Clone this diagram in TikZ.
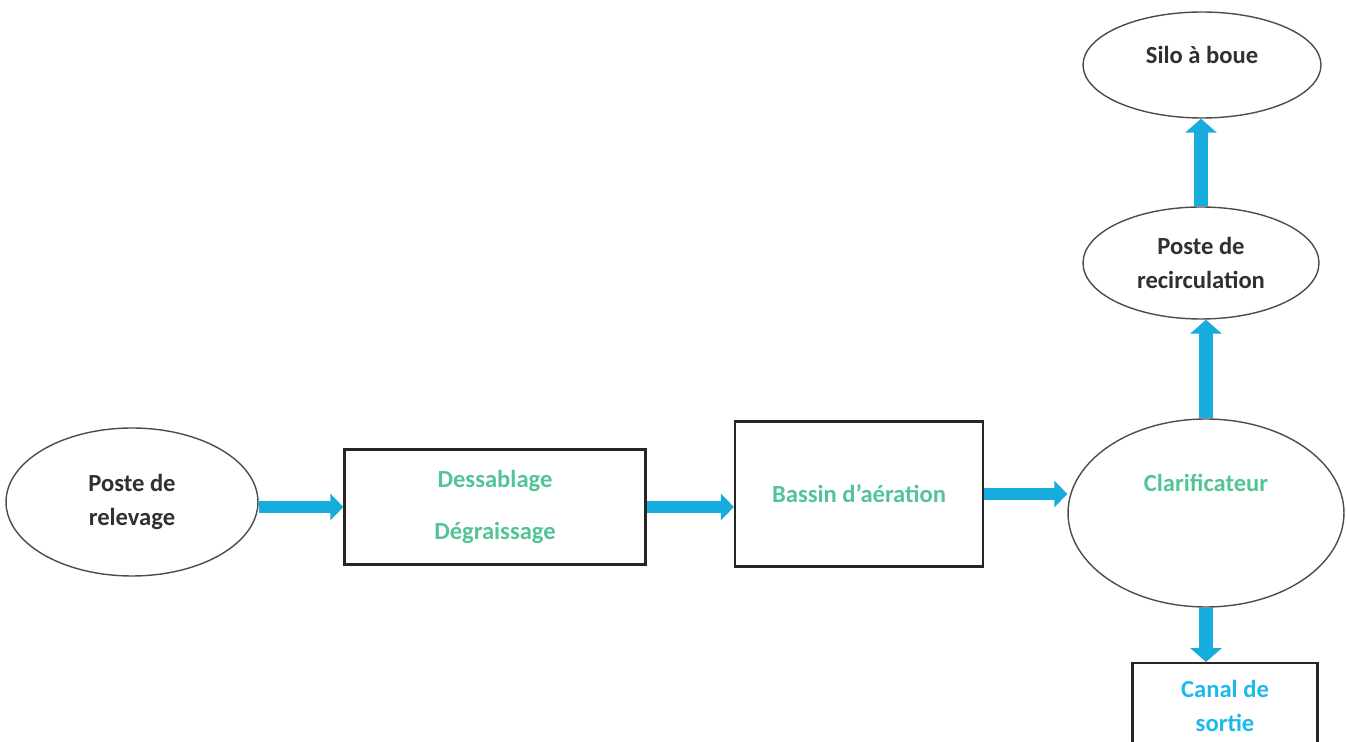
\documentclass[tikz,border=0pt]{standalone}
\usepackage{fontspec}
\setmainfont{Carlito}
\usetikzlibrary{shapes.geometric,arrows.meta}
\definecolor{flowblue}{RGB}{22,172,222}
\definecolor{textgreen}{RGB}{82,196,150}
\definecolor{textblue}{RGB}{28,186,234}
\definecolor{textdark}{RGB}{48,48,48}

\begin{document}
\begin{tikzpicture}[x=0.02cm,y=-0.02cm,
    every node/.style={font=\fontsize{14}{19}\selectfont\bfseries,align=center,inner sep=0pt},
    stage/.style={ellipse,draw=black!70,line width=0.8pt,text=textdark},
    unit/.style={rectangle,draw=black!85,line width=1.3pt,text=textgreen},
    flow/.style={draw=flowblue,line width=0.24cm,-{Triangle[width=0.52cm,length=0.26cm]}},
    rise/.style={draw=flowblue,line width=0.28cm,-{Triangle[width=0.62cm,length=0.28cm]}}]
    \useasboundingbox (0,0) rectangle (1346,742);
    \node[stage,minimum width=5.04cm,minimum height=2.96cm] (relev) at (132,502) {Poste de\\relevage};
    \node[unit,minimum width=6.02cm,minimum height=2.30cm] (dessab) at (495,507) {Dessablage\\[11pt]Dégraissage};
    \node[unit,minimum width=4.96cm,minimum height=2.90cm] (bassin) at (859,494) {Bassin d’aération};
    \node[stage,minimum width=5.52cm,minimum height=3.76cm,text=textgreen,text depth=1.2cm] (clar) at (1206,513) {Clarificateur};
    \node[stage,minimum width=4.72cm,minimum height=2.24cm] (recirc) at (1201,263) {Poste de\\recirculation};
    \node[stage,minimum width=4.76cm,minimum height=2.12cm,text depth=0.4cm] (silo) at (1202,65) {Silo à boue};
    \node[unit,minimum width=3.70cm,minimum height=1.72cm,text=textblue,anchor=north] (canal) at (1225,662) {Canal de\\sortie};
    \draw[flow] (relev.east |- dessab.west) -- (dessab.west);
    \draw[flow] (dessab.east) -- (dessab.east -| bassin.west);
    \draw[flow] (bassin.east) -- (bassin.east -| clar.west);
    \draw[rise] (clar.north) -- (clar.north |- recirc.south);
    \draw[rise] (recirc.north) -- (recirc.north |- silo.south);
    \draw[rise] (clar.south) -- (clar.south |- canal.north);
\end{tikzpicture}
\end{document}
